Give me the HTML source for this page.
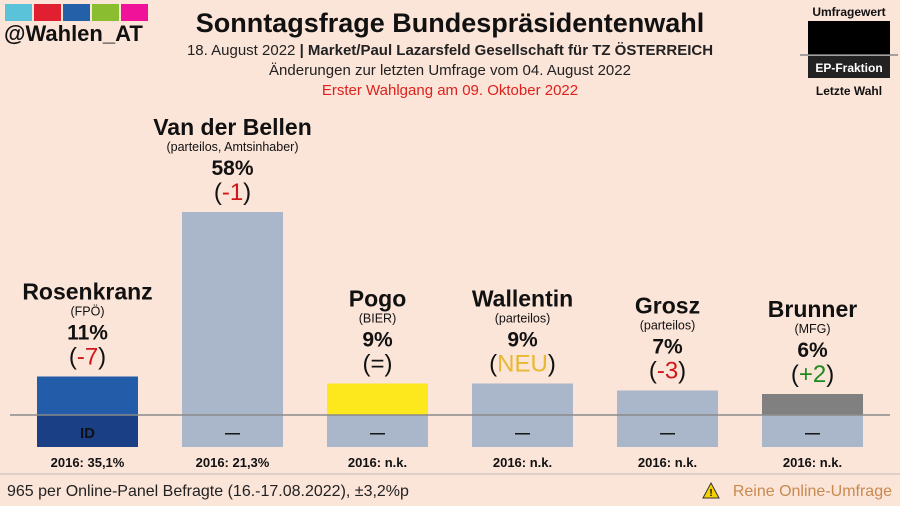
<!DOCTYPE html>
<html><head><meta charset="utf-8"><style>
html,body{margin:0;padding:0;background:#fbe4d8;}
svg{display:block;font-family:"Liberation Sans","DejaVu Sans",sans-serif;}
</style></head><body>
<svg id="chart" width="900" height="506" viewBox="0 0 900 506">
  <rect x="0" y="0" width="900" height="506" fill="#fbe4d8"/>
  <g>
    <rect x="5" y="4" width="27" height="17" fill="#5bc3d9"/>
    <rect x="34" y="4" width="27" height="17" fill="#e02030"/>
    <rect x="63" y="4" width="27" height="17" fill="#2360a8"/>
    <rect x="92" y="4" width="27" height="17" fill="#8bbd30"/>
    <rect x="121" y="4" width="27" height="17" fill="#f0139a"/>
    <text x="4" y="41" font-size="22" font-weight="bold" fill="#111">@Wahlen_AT</text>
  </g>
  <text x="450" y="32" text-anchor="middle" font-size="27" font-weight="bold" fill="#111">Sonntagsfrage Bundespräsidentenwahl</text>
  <text x="450" y="55" text-anchor="middle" font-size="15" fill="#222">18. August 2022 <tspan font-weight="bold">| Market/Paul Lazarsfeld Gesellschaft für TZ ÖSTERREICH</tspan></text>
  <text x="450" y="75" text-anchor="middle" font-size="15" fill="#222">Änderungen zur letzten Umfrage vom 04. August 2022</text>
  <text x="450" y="95" text-anchor="middle" font-size="15" fill="#e0201c">Erster Wahlgang am 09. Oktober 2022</text>
  <g>
    <text x="849" y="16" text-anchor="middle" font-size="12" font-weight="bold" fill="#111">Umfragewert</text>
    <rect x="808" y="21" width="82" height="34" fill="#000"/>
    <line x1="800" y1="55" x2="898" y2="55" stroke="#888" stroke-width="1.5"/>
    <rect x="808" y="56" width="82" height="22" fill="#222"/>
    <text x="849" y="72" text-anchor="middle" font-size="12" font-weight="bold" fill="#fff">EP-Fraktion</text>
    <text x="849" y="95" text-anchor="middle" font-size="12" font-weight="bold" fill="#111">Letzte Wahl</text>
  </g>
  <g id="bars"></g>
  <line x1="10" y1="415" x2="890" y2="415" stroke="#8a8a8a" stroke-width="1.5"/>
  <line x1="0" y1="474" x2="900" y2="474" stroke="#bbb" stroke-width="1"/>
  <text x="7" y="496" font-size="16" fill="#222">965 per Online-Panel Befragte (16.-17.08.2022), ±3,2%p</text>
  <g>
    <polygon points="703,498 711,483 719,498" fill="#f5d000" stroke="#333" stroke-width="1"/>
    <text x="711" y="496" text-anchor="middle" font-size="10" font-weight="bold" fill="#111">!</text>
    <text x="892" y="496" text-anchor="end" font-size="16" fill="#c98a4f">Reine Online-Umfrage</text>
  </g>
</svg>
<script>
const candidates = ["Rosenkranz","Van der Bellen","Pogo","Wallentin","Grosz","Brunner"];
const parties = ["(FPÖ)","(parteilos, Amtsinhaber)","(BIER)","(parteilos)","(parteilos)","(MFG)"];
const values = [11,58,9,9,7,6];
const changes = ["-7","-1","=","NEU","-3","+2"];
const lastElection = ["2016: 35,1%","2016: 21,3%","2016: n.k.","2016: n.k.","2016: n.k.","2016: n.k."];
const fractions = ["ID","—","—","—","—","—"];
const colors = ["#235da9","#aab6c9","#fde81e","#aab6c9","#aab6c9","#808080"];
const lowerColors = ["#1a3f85","#aab6c9","#aab6c9","#aab6c9","#aab6c9","#aab6c9"];

const NS = "http://www.w3.org/2000/svg";
const g = document.getElementById("bars");
const baseY = 415, scale = 3.5, x0 = 37, step = 145, bw = 101;
function xPos(i){ return x0 + i*step; }
function yPos(v){ return baseY - v*scale; }
function mk(tag, attrs, text){
  const e = document.createElementNS(NS, tag);
  for (const k in attrs) e.setAttribute(k, attrs[k]);
  if (text !== undefined) e.textContent = text;
  g.appendChild(e); return e;
}
function changeColor(c){
  if (c === "NEU") return "#e8b830";
  if (c === "=") return "#111";
  return c[0] === "+" ? "#1e8a1e" : "#d01818";
}
candidates.forEach((name, i) => {
  const x = xPos(i), top = yPos(values[i]), cx = x + bw/2;
  const bar = mk("rect", {x: x, y: top, width: bw, height: baseY - top, fill: colors[i]});
  
  
  const low = mk("rect", {x: x, y: baseY, width: bw, height: 32, fill: lowerColors[i]});
  
  
  const fr = mk("text", {x: cx, y: baseY + 23, "text-anchor": "middle", "font-size": 15, "font-weight": "bold", fill: "#111"}, fractions[i]);
  
  
  const le = mk("text", {x: cx, y: 467, "text-anchor": "middle", "font-size": 13, "font-weight": "bold", fill: "#111"}, lastElection[i]);
  
  
  const ch = mk("text", {x: cx, y: top - 12, "text-anchor": "middle", "font-size": 24, fill: "#111"});
  
  
  const t1 = document.createElementNS(NS, "tspan"); t1.textContent = "("; ch.appendChild(t1);
  const t2 = document.createElementNS(NS, "tspan"); t2.textContent = changes[i]; t2.setAttribute("fill", changeColor(changes[i])); ch.appendChild(t2);
  const t3 = document.createElementNS(NS, "tspan"); t3.textContent = ")"; ch.appendChild(t3);
  const pv = mk("text", {x: cx, y: top - 37, "text-anchor": "middle", "font-size": 21, "font-weight": "bold", fill: "#111"}, values[i] + "%");
  
  
  const pa = mk("text", {x: cx, y: top - 61, "text-anchor": "middle", "font-size": 12.5, fill: "#111"}, parties[i]);
  
  
  const nm = mk("text", {x: cx, y: top - 77, "text-anchor": "middle", "font-size": 23, "font-weight": "bold", fill: "#111"}, name);
  
  
});
</script>
</body></html>
